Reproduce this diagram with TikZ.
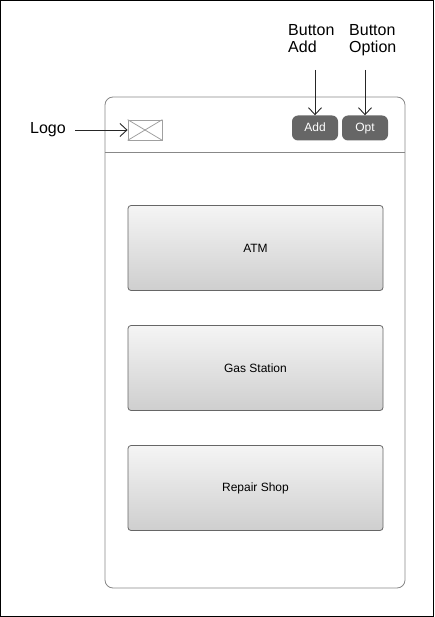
\documentclass[tikz,border=0pt]{standalone}
\usepackage{fontspec}
\setmainfont{Liberation Sans}
\usetikzlibrary{arrows.meta}

\definecolor{framegray}{HTML}{888888}
\definecolor{btngray}{HTML}{666666}

\tikzset{
    callout/.style={font=\fontsize{16}{17}\selectfont, align=left, inner sep=0pt},
    pointer/.style={draw=black!85, line width=0.9pt, -{Straight Barb[length=7pt, width=13pt]}},
    tile/.style={draw=btngray, rounded corners=3pt, top color=black!4, bottom color=black!19,
        minimum width=255pt, minimum height=85pt, font=\fontsize{12}{14}\selectfont, line width=0.8pt},
    btn/.style={fill=btngray, rounded corners=6pt, text=white, minimum width=46pt, minimum height=25pt,
        font=\fontsize{12}{14}\selectfont, inner sep=0pt, text height=9pt, text depth=2.5pt}
}

\begin{document}
\begin{tikzpicture}[x=1pt, y=-1pt]
    \useasboundingbox (0,0) rectangle (434,617);
    \draw [line width=1pt] (0.5,0.5) rectangle (433.5,616.5);
    % phone frame
    \draw [framegray, line width=0.8pt, rounded corners=8pt] (105,97) rectangle (405,588);
    \draw [framegray, line width=0.8pt] (105,152.5) -- (405,152.5);
    % logo placeholder
    \node[draw=framegray!80, line width=0.8pt, minimum width=34pt, minimum height=20pt, inner sep=0pt] (logo) at (145,130) {};
    \draw [framegray!80, line width=0.8pt] (logo.north west) -- (logo.south east);
    \draw [framegray!80, line width=0.8pt] (logo.south west) -- (logo.north east);
    % buttons
    \node[btn] (add) at (315,128) {Add};
    \node[btn] (opt) at (365,128) {Opt};
    % tiles
    \node[tile] (atm) at (255.5,248) {ATM};
    \node[tile] (gas) at (255.5,368) {Gas Station};
    \node[tile] (repair) at (255.5,488) {Repair Shop};
    % callouts
    \node[callout, anchor=west] (logolbl) at (30,129.5) {Logo};
    \node[callout, anchor=north west] (addlbl) at (288,24.5) {Button\\Add};
    \node[callout, anchor=north west] (optlbl) at (349,24.5) {Button\\Option};
    \coordinate (addtop) at (315,70);
    \coordinate (opttop) at (365,70);
    \coordinate (logoend) at (75,130);
    \draw [pointer] (addtop) -- (add.north);
    \draw [pointer] (opttop) -- (opt.north);
    \draw [pointer] (logoend) -- (logo.west);
\end{tikzpicture}
\end{document}
